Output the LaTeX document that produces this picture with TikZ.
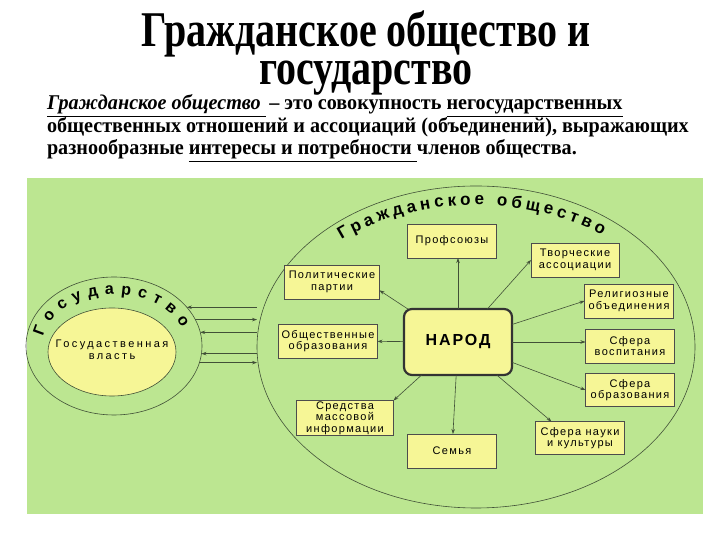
\documentclass[tikz,border=0pt]{standalone}
\usepackage{fontspec}
\setmainfont{Liberation Serif}
\setsansfont{Liberation Sans}
\newfontfamily\titlefont[FakeStretch=0.8]{Liberation Serif}
\newfontfamily\deffont[FakeStretch=0.96]{Liberation Serif}
\newfontfamily\boxfont[LetterSpace=12]{Liberation Sans}
\newfontfamily\vlastfont[LetterSpace=22]{Liberation Sans}
\newfontfamily\narodfont[LetterSpace=12]{Liberation Sans}
\usetikzlibrary{shapes.geometric, decorations.text, arrows.meta}
\definecolor{panelgreen}{RGB}{188,230,145}
\definecolor{boxyellow}{RGB}{246,246,150}
\definecolor{linegray}{RGB}{65,80,55}

\begin{document}
\begin{tikzpicture}[x=1pt, y=1pt,
    every node/.style={inner sep=0pt, outer sep=0pt},
    sphere/.style={draw=black!70, line width=0.6pt, fill=boxyellow,
      minimum width=89pt, minimum height=34pt, align=center,
      font=\boxfont\fontsize{11}{11.5}\selectfont},
    oval/.style={ellipse, draw=linegray, line width=0.6pt},
    link/.style={draw=linegray, line width=0.6pt,
      -{Stealth[length=5pt, width=3.5pt]}},
    back/.style={draw=linegray, line width=0.6pt,
      {Stealth[length=5pt, width=3.5pt]}-},
    arctext/.style={decorate, decoration={text along path,
      text align={fit to path}, text={#1}}}
  ]
  \useasboundingbox (0,0) rectangle (720,540);

  % title and definition
  \node[anchor=base] (title1) at (366,493)
    {\titlefont\bfseries\fontsize{50}{50}\selectfont Гражданское общество и};
  \node[anchor=base] (title2) at (366,455)
    {\titlefont\bfseries\fontsize{50}{50}\selectfont государство};
  \node[anchor=base west, align=left,
    font=\deffont\bfseries\fontsize{21}{22.5}\selectfont] (defn) at (47,385)
    {\underline{\itshape Гражданское общество }\,– это совокупность \underline{негосударственных}\\
     общественных отношений и ассоциаций (объединений), выражающих\\
     разнообразные \underline{интересы и потребности }членов общества.};

  % green panel
  \fill[panelgreen] (27,26) rectangle (703,362);

  % state
  \node[oval, minimum width=176pt, minimum height=138pt] (gos) at (114,194) {};
  \node[oval, fill=boxyellow, minimum width=128pt, minimum height=88pt] (vlast) at (112,188) {};
  \node[align=center, font=\vlastfont\fontsize{11}{11.5}\selectfont] (vlasttext)
    at ([yshift=2pt]vlast.center) {Госудаственная\\власть};
  \path[arctext={|\sffamily\bfseries\fontsize{16}{16}\selectfont|Государство}]
    (114,194) ++(170:72 and 52) arc[start angle=170, end angle=20,
      x radius=72, y radius=52];

  % civil society
  \node[oval, minimum width=438pt, minimum height=322pt] (obsh) at (476,193) {};
  \path[arctext={|\sffamily\bfseries\fontsize{17}{17}\selectfont|Гражданское общество}]
    (476,193) ++(131:205 and 142) arc[start angle=131, end angle=52,
      x radius=205, y radius=142];

  \node[draw=black!80, line width=2.2pt, fill=boxyellow, rounded corners=8pt,
    minimum width=108pt, minimum height=66pt,
    font=\narodfont\bfseries\fontsize{16}{16}\selectfont] (narod) at (458,198) {НАРОД};

  \node[sphere] (prof) at (452,299) {Профсоюзы};
  \node[sphere, minimum width=95pt] (polit) at (332,258) {Политические\\партии};
  \node[sphere, minimum width=99pt] (obshobr) at (328,199) {Общественные\\образования};
  \node[sphere, minimum width=97pt, minimum height=35pt] (smi) at (345,122)
    {Средства\\массовой\\информации};
  \node[sphere] (semya) at (452,89) {Семья};
  \node[sphere, minimum width=88pt] (tvor) at (575,280) {Творческие\\ассоциации};
  \node[sphere] (relig) at (629,239) {Религиозные\\объединения};
  \node[sphere] (vosp) at (630,194) {Сфера\\воспитания};
  \node[sphere, minimum height=33pt] (obraz) at (630,150) {Сфера\\образования};
  \node[sphere, minimum height=33pt] (nauka) at (580,102) {Сфера науки\\и культуры};

  % links from the people
  \draw[link] (narod.north) -- (narod.north |- prof.south);
  \draw[link] (narod) -- (polit.-10);
  \draw[link] (narod) -- (obshobr);
  \draw[link] (narod) -- (smi.north east);
  \draw[link] (narod) -- (semya);
  \draw[link] (narod) -- (tvor.west);
  \draw[link] (narod) -- (relig.west);
  \draw[link] (narod.east) -- (narod.east -| vosp.west);
  \draw[link] (narod) -- (obraz.west);
  \draw[link] (narod) -- (nauka.150);

  % links between state and society
  \draw[back] (gos.28) -- (gos.28 -| obsh.west);
  \draw[link] (gos.18) -- (gos.18 -| obsh.west);
  \draw[back] (gos.9) -- (gos.9 -| obsh.west);
  \draw[back] (gos.-5) -- (gos.-5 -| obsh.west);
  \draw[link] (gos.-11) -- (gos.-11 -| obsh.west);
\end{tikzpicture}
\end{document}
